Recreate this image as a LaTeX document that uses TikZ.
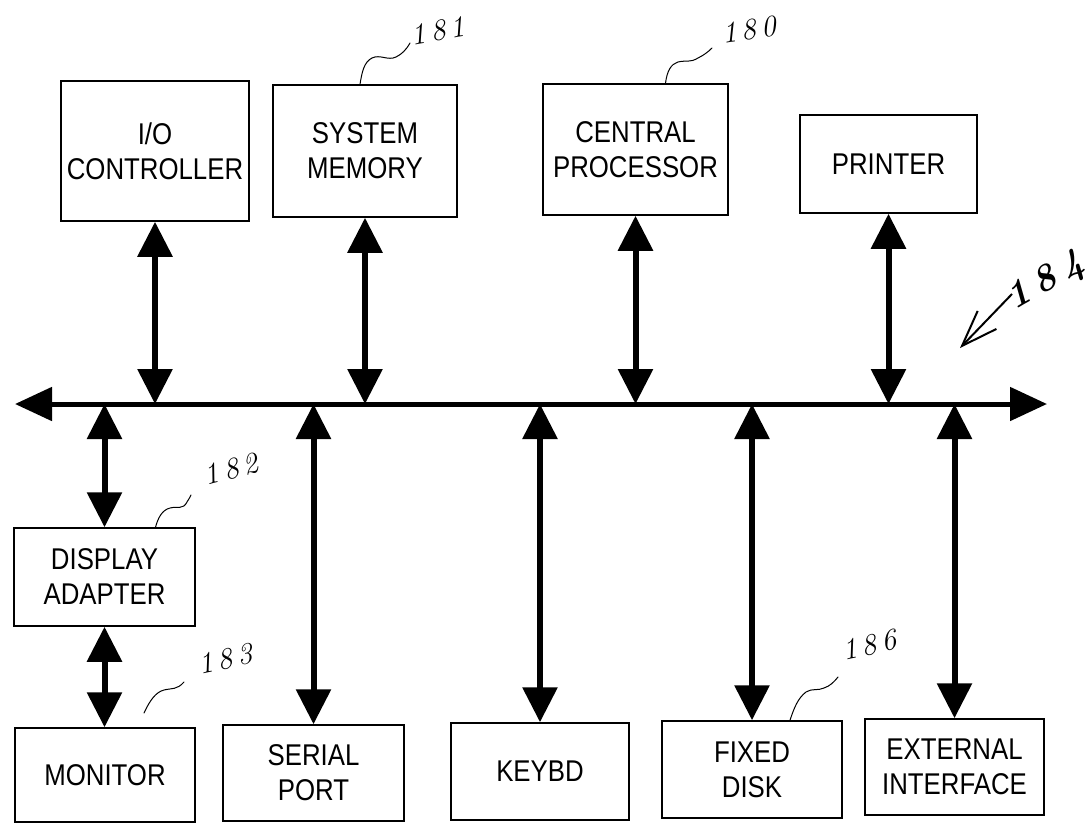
\documentclass[tikz,border=0pt]{standalone}
\usepackage{fontspec}
\newfontfamily\boxfont[FakeStretch=0.86]{Liberation Sans}
\usetikzlibrary{arrows.meta,calc}
\newcommand{\dgap}{\kern5pt}
\begin{document}
\begin{tikzpicture}[x=1pt,y=-1pt,
  unit/.style={draw, line width=1.5pt, align=center, inner sep=0pt,
    font=\boxfont\fontsize{30}{35}\selectfont},
  link/.style={line width=6pt,
    {Triangle[length=35pt,width=34pt]}-{Triangle[length=35pt,width=34pt]}},
  busline/.style={line width=5pt,
    {Triangle[length=37pt,width=33pt]}-{Triangle[length=37pt,width=33pt]}},
  lead/.style={line width=1pt, line cap=round},
  refnum/.style={font=\itshape\fontsize{30}{30}\selectfont, inner sep=1pt}]

% page
\path[fill=white] (0,0) rectangle (1091,825);
\useasboundingbox (0,0) rectangle (1091,825);

% upper row of units
\node[unit, minimum width=188pt, minimum height=140pt] (io)  at (155,151)   {I/O\\CONTROLLER};
\node[unit, minimum width=184pt, minimum height=132pt] (mem) at (365,151)   {SYSTEM\\MEMORY};
\node[unit, minimum width=185pt, minimum height=131pt] (cpu) at (635.5,149.5) {CENTRAL\\PROCESSOR};
\node[unit, minimum width=177pt, minimum height=98pt]  (prn) at (888.5,164) {PRINTER};

% display chain and lower row of units
\node[unit, minimum width=181pt, minimum height=98pt] (disp) at (104.5,577) {DISPLAY\\ADAPTER};
\node[unit, minimum width=180pt, minimum height=94pt] (mon)  at (105,775)   {MONITOR};
\node[unit, minimum width=181pt, minimum height=96pt] (ser)  at (313.5,773) {SERIAL\\PORT};
\node[unit, minimum width=178pt, minimum height=97pt] (key)  at (540,771.5) {KEYBD};
\node[unit, minimum width=180pt, minimum height=97pt] (disk) at (752,769.5) {FIXED\\DISK};
\node[unit, minimum width=179pt, minimum height=96pt] (ext)  at (954.5,767) {EXTERNAL\\INTERFACE};

% system bus
\coordinate (busL) at (15,404);
\coordinate (busR) at (1047,404);
\draw[busline] (busL) -- (busR);

% bus connections
\draw[link] (io.south)  -- (io.south |- busL);
\draw[link] (mem.south) -- (mem.south |- busL);
\draw[link] (cpu.south) -- (cpu.south |- busL);
\draw[link] (prn.south) -- (prn.south |- busL);
\draw[link] (disp.north |- busL) -- (disp.north);
\draw[link] (disp.south) -- (disp.south |- mon.north);
\draw[link] (ser.north |- busL)  -- (ser.north);
\draw[link] (key.north |- busL)  -- (key.north);
\draw[link] (disk.north |- busL) -- (disk.north);
\draw[link] (ext.north |- busL)  -- (ext.north);

% reference numerals with leaders
\coordinate (l181) at ([xshift=-5pt]mem.north);
\draw[lead] (l181) .. controls (362,72) and (364,62) .. (372,58)
  .. controls (380,54) and (388,61) .. (396,57)
  .. controls (402,54) and (406,50) .. (410,43);
\node[refnum, rotate=10] (n181) at (438,31) {1\dgap8\dgap1};

\coordinate (l180) at ([xshift=30pt]cpu.north);
\draw[lead] (l180) .. controls (667,71) and (671,64) .. (678,62)
  .. controls (686,60) and (690,63) .. (698,58)
  .. controls (704,55) and (708,52) .. (712,48);
\node[refnum, rotate=8] (n180) at (749,30) {1\dgap8\dgap0};

\coordinate (l182) at ([xshift=51pt]disp.north);
\draw[lead] (l182) .. controls (158,518) and (162,510) .. (170,508)
  .. controls (178,506) and (183,510) .. (187,502)
  .. controls (189,499) and (190,497) .. (191,495);
\node[refnum, rotate=15] (n182) at (231,469) {1\dgap8\dgap2};

\coordinate (l183a) at (144,713);
\coordinate (l183b) at (184,682);
\draw[lead] (l183a) .. controls (150,700) and (156,692) .. (164,690)
  .. controls (172,688) and (177,690) .. (l183b);
\node[refnum, rotate=12] (n183) at (225,659) {1\dgap8\dgap3};

\coordinate (l186) at ([xshift=38pt]disk.north);
\draw[lead] (l186) .. controls (794,708) and (798,698) .. (806,692)
  .. controls (812,688) and (818,691) .. (824,688)
  .. controls (830,686) and (834,682) .. (838,677);
\node[refnum, rotate=12] (n186) at (869,645) {1\dgap8\dgap6};

% bus reference
\node[font=\bfseries\itshape\fontsize{38}{38}\selectfont, inner sep=0pt, rotate=30] (n184) at (1046,282) {1\kern8pt8\kern8pt4};
\coordinate (a184s) at (1012,294);
\coordinate (a184e) at (960,348);
\draw[line width=2pt, -{Straight Barb[length=36pt,width=26pt]}] (a184s) -- (a184e);

\end{tikzpicture}
\end{document}
